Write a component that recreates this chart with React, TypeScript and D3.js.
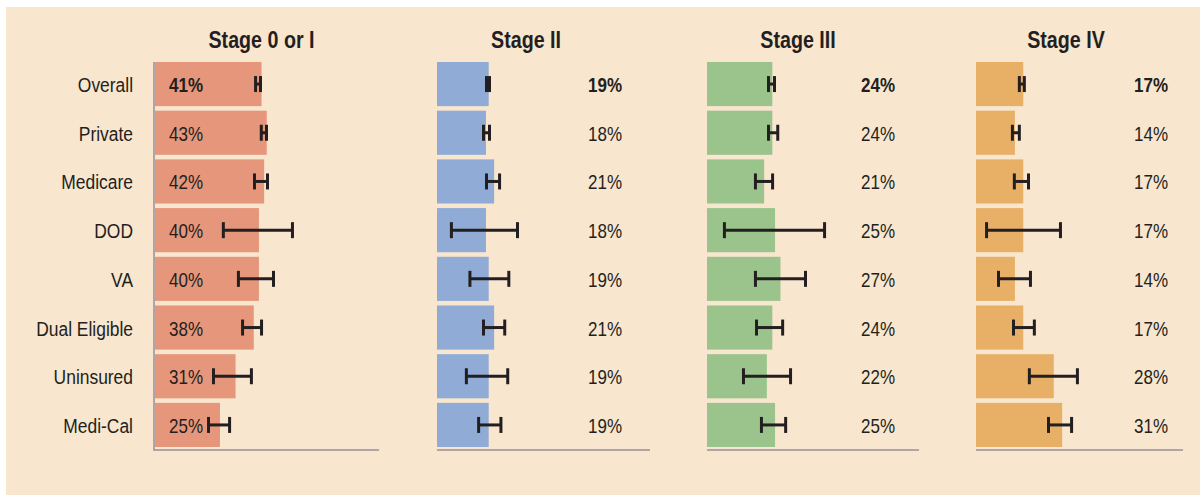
import React from "react";
import * as d3 from "d3";

const categories = ["Overall", "Private", "Medicare", "DOD", "VA", "Dual Eligible", "Uninsured", "Medi-Cal"];
const stageTitles = ["Stage 0 or I", "Stage II", "Stage III", "Stage IV"];

const stage0Values = [41, 43, 42, 40, 40, 38, 31, 25];
const stage2Values = [19, 18, 21, 18, 19, 21, 19, 19];
const stage3Values = [24, 24, 21, 25, 27, 24, 22, 25];
const stage4Values = [17, 14, 17, 17, 14, 17, 28, 31];

const stage0Low = [38.7, 40.9, 38.3, 26.3, 32.1, 33.7, 22.5, 20.6];
const stage0High = [40.6, 42.9, 43.3, 52.9, 45.6, 41.0, 37.1, 28.7];
const stage2Low = [18.2, 17.1, 18.2, 5.3, 12.1, 17.1, 10.8, 15.3];
const stage2High = [19.3, 19.3, 23.0, 29.6, 26.4, 24.9, 26.0, 23.5];
const stage3Low = [22.6, 22.6, 17.8, 6.4, 17.8, 18.2, 13.4, 20.0];
const stage3High = [24.8, 26.0, 24.1, 43.2, 36.2, 27.8, 30.7, 28.9];
const stage4Low = [15.6, 13.1, 13.8, 3.8, 8.1, 13.5, 19.2, 26.1];
const stage4High = [17.4, 15.6, 18.9, 30.4, 19.6, 21.0, 36.5, 34.4];

const allValues = [stage0Values, stage2Values, stage3Values, stage4Values];
const allLow = [stage0Low, stage2Low, stage3Low, stage4Low];
const allHigh = [stage0High, stage2High, stage3High, stage4High];

// layout (not data)
const panelLayout = [
  { x0: 155, x1: 379, max: 86.2, color: "#E6967B", titleX: 261.5, valueX: 169, inside: true, axisLeft: true },
  { x0: 437, x1: 650, max: 78.3, color: "#8FABD6", titleX: 526, valueX: 622, inside: false, axisLeft: false },
  { x0: 707, x1: 919, max: 77.9, color: "#9BC48D", titleX: 798, valueX: 895, inside: false, axisLeft: false },
  { x0: 976, x1: 1183, max: 74.5, color: "#E8B067", titleX: 1066, valueX: 1168, inside: false, axisLeft: false },
];

const W = 1200;
const H = 495;
const FONT = "'Liberation Sans', Arial, sans-serif";
const INK = "#231F20";
const AXIS = "#9A8E98";

function NarrowText(props: {
  x: number;
  y: number;
  size: number;
  sx: number;
  anchor: "start" | "middle" | "end";
  bold?: boolean;
  children: React.ReactNode;
}) {
  return (
    <text
      transform={`translate(${props.x},${props.y}) scale(${props.sx},1)`}
      x={0}
      y={0}
      textAnchor={props.anchor}
      fontFamily={FONT}
      fontSize={props.size}
      fontWeight={props.bold ? "bold" : "normal"}
      fill={INK}
    >
      {props.children}
    </text>
  );
}

export default function App() {
  const y = d3.scaleBand<string>().domain(categories).range([62, 447]).paddingInner(0.094).paddingOuter(0);
  const bw = y.bandwidth();

  return (
    <svg width={W} height={H} style={{ position: "absolute", left: 0, top: 0, display: "block" }}>
      <rect x={0} y={0} width={W} height={H} fill="#ffffff" />
      <rect x={6} y={7} width={W - 6} height={H - 7} fill="#F8E6CF" />

      {categories.map((c) => (
        <NarrowText key={c} x={133} y={(y(c) as number) + bw / 2 + 8} size={21} sx={0.83} anchor="end">
          {c}
        </NarrowText>
      ))}

      {panelLayout.map((p, pi) => {
        const x = d3.scaleLinear().domain([0, p.max]).range([p.x0, p.x1]);
        const vals = allValues[pi];
        const lows = allLow[pi];
        const highs = allHigh[pi];
        return (
          <g key={pi}>
            <NarrowText x={p.titleX} y={48} size={24} sx={0.82} anchor="middle" bold>
              {stageTitles[pi]}
            </NarrowText>
            {categories.map((c, i) => (
              <rect key={c} x={x(0)} y={y(c)} width={x(vals[i]) - x(0)} height={bw} fill={p.color} />
            ))}
            {categories.map((c, i) => {
              const yc = (y(c) as number) + bw / 2;
              const xl = x(lows[i]);
              const xh = x(highs[i]);
              return (
                <g key={"e" + c} stroke={INK} strokeWidth={3} fill="none">
                  <line x1={xl} x2={xh} y1={yc} y2={yc} />
                  <line x1={xl} x2={xl} y1={yc - 8} y2={yc + 8} />
                  <line x1={xh} x2={xh} y1={yc - 8} y2={yc + 8} />
                </g>
              );
            })}
            {categories.map((c, i) => {
              const yc = (y(c) as number) + bw / 2;
              return (
                <NarrowText
                  key={"v" + c}
                  x={p.valueX}
                  y={yc + 8}
                  size={20}
                  sx={0.85}
                  anchor={p.inside ? "start" : "end"}
                  bold={i === 0}
                >
                  {d3.format(".0f")(vals[i]) + "%"}
                </NarrowText>
              );
            })}
            <line x1={p.axisLeft ? p.x0 - 1 : p.x0} x2={p.x1} y1={450} y2={450} stroke={AXIS} strokeWidth={1.5} />
            {p.axisLeft && (
              <line x1={p.x0 - 1} x2={p.x0 - 1} y1={62} y2={450.75} stroke={AXIS} strokeWidth={1.5} />
            )}
          </g>
        );
      })}
    </svg>
  );
}
